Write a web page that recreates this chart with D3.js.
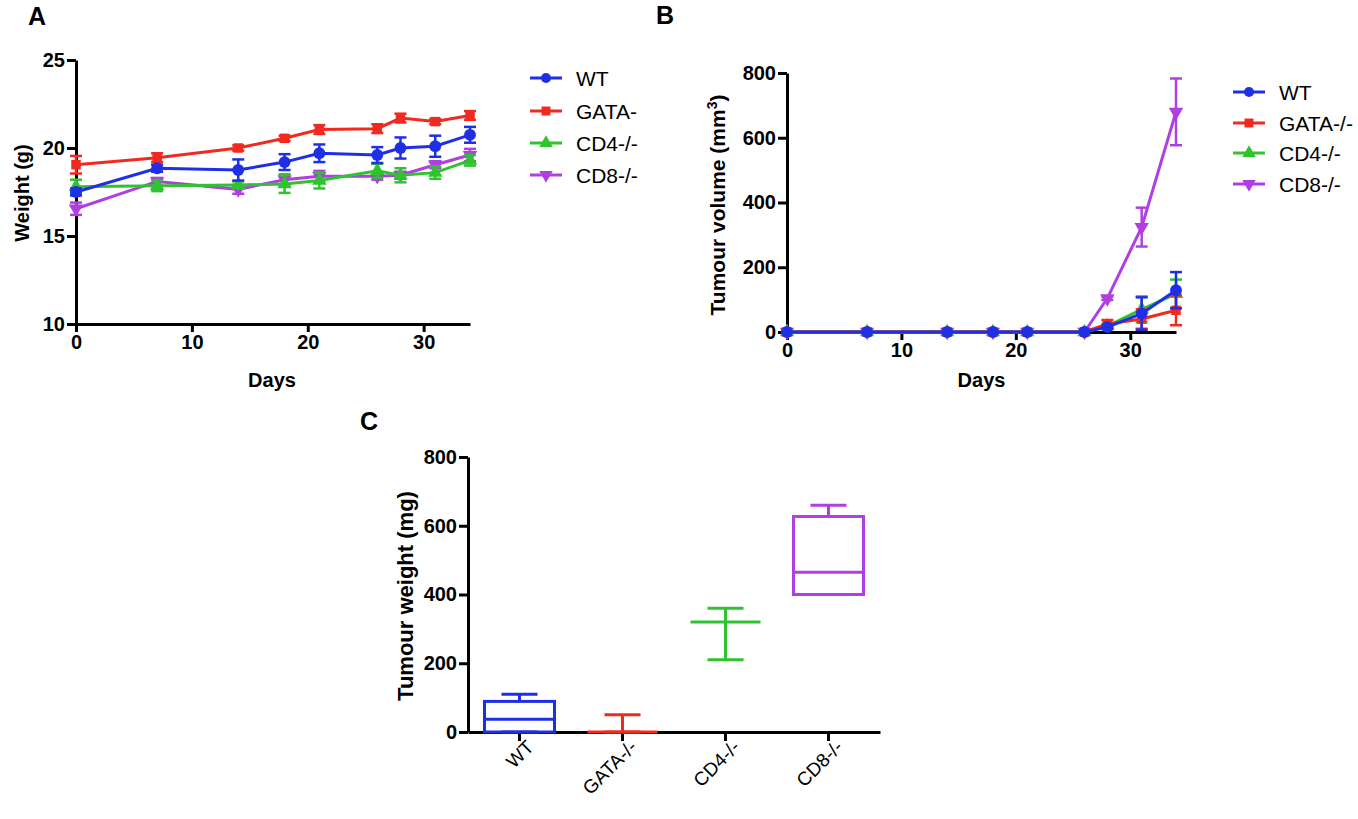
<!DOCTYPE html>
<html>
<head>
<meta charset="utf-8">
<script src="https://cdn.jsdelivr.net/npm/d3@7"></script>
<style>
  body { margin: 0; background: #fff; }
  svg { font-family: "Liberation Sans", Arial, sans-serif; }
  .axis path, .axis line { stroke: #000; stroke-width: 3; }
  .axis text { font-size: 20px; font-weight: bold; fill: #000; }
  .title { font-size: 20px; font-weight: bold; }
  .letter { font-size: 25px; font-weight: bold; }
  .legend text { font-size: 21px; }
</style>
</head>
<body>
<svg width="1358" height="819"></svg>
<script>
// ---- data ----
const days = [0, 7, 14, 18, 21, 26, 28, 31, 34];
const groups = ["WT", "GATA-/-", "CD4-/-", "CD8-/-"];
const legendA = ["WT", "GATA-", "CD4-/-", "CD8-/-"];
const colors = ["#1f2fe6", "#f2291e", "#2fc42f", "#b03fe3"];

// panel A: body weight (g), mean and error
const weightWT = [17.5, 18.85, 18.75, 19.2, 19.7, 19.6, 20.0, 20.1, 20.75];
const weightWTErr = [0.2, 0.2, 0.6, 0.45, 0.5, 0.45, 0.6, 0.6, 0.45];
const weightGATA = [19.05, 19.45, 20.0, 20.55, 21.05, 21.1, 21.7, 21.5, 21.85];
const weightGATAErr = [0.5, 0.25, 0.15, 0.15, 0.25, 0.25, 0.25, 0.15, 0.25];
const weightCD4 = [17.8, 17.85, 17.9, 17.95, 18.15, 18.7, 18.45, 18.6, 19.3];
const weightCD4Err = [0.4, 0.3, 0.2, 0.5, 0.45, 0.4, 0.4, 0.35, 0.3];
const weightCD8 = [16.55, 18.1, 17.65, 18.2, 18.4, 18.4, 18.45, 19.05, 19.6];
const weightCD8Err = [0.35, 0.2, 0.25, 0.3, 0.3, 0.2, 0.2, 0.2, 0.35];

// panel B: tumour volume (mm3)
const volWT = [0, 0, 0, 0, 0, 0, 15, 57, 129];
const volWTErr = [0, 0, 0, 0, 0, 0, 5, 50, 56];
const volGATA = [0, 0, 0, 0, 0, 0, 25, 40, 67];
const volGATAErr = [0, 0, 0, 0, 0, 0, 12, 30, 46];
const volCD4 = [0, 0, 0, 0, 0, 0, 18, 70, 118];
const volCD4Err = [0, 0, 0, 0, 0, 0, 8, 40, 44];
const volCD8 = [0, 0, 0, 0, 0, 0, 104, 324, 680];
const volCD8Err = [0, 0, 0, 0, 0, 0, 5, 60, 103];

// panel C: tumour weight (mg) box plot
const boxMin = [0, 0, 210, 400];
const boxQ1 = [0, 0, 320, 400];
const boxMedian = [37, 0, 320, 465];
const boxQ3 = [89, 0, 320, 627];
const boxMax = [110, 50, 360, 660];

const symbols = [d3.symbolCircle, d3.symbolSquare, d3.symbolTriangle, d3.symbolTriangle];
const symRot = [0, 0, 0, 180];

const svg = d3.select("svg");

function linePanel(cfg) {
  const x = d3.scaleLinear().domain([0, 34]).range(cfg.xRange);
  const y = d3.scaleLinear().domain(cfg.yDomain).range(cfg.yRange);

  // axes
  svg.append("g").attr("class", "axis")
    .attr("transform", `translate(0,${cfg.yRange[0]})`)
    .call(d3.axisBottom(x).tickValues([0, 10, 20, 30]).tickSize(8).tickPadding(3).tickSizeOuter(0));
  svg.append("g").attr("class", "axis")
    .attr("transform", `translate(${cfg.xRange[0]},0)`)
    .call(d3.axisLeft(y).tickValues(cfg.yTicks).tickSize(9).tickPadding(2).tickSizeOuter(0));

  // series, drawn back to front
  const order = [3, 2, 1, 0];
  order.forEach(i => {
    const vals = cfg.series[i], errs = cfg.errors[i];
    const pts = days.map((d, k) => ({d, v: vals[k], e: errs[k]}));
    const g = svg.append("g");
    g.append("path").datum(pts)
      .attr("fill", "none").attr("stroke", colors[i]).attr("stroke-width", 3)
      .attr("d", d3.line().x(p => x(p.d)).y(p => y(p.v)));
    const eb = g.selectAll(".eb").data(pts.filter(p => p.e > 0)).enter().append("g")
      .attr("stroke", colors[i]).attr("stroke-width", 2.5);
    eb.append("line").attr("x1", p => x(p.d)).attr("x2", p => x(p.d))
      .attr("y1", p => y(p.v - p.e)).attr("y2", p => y(p.v + p.e));
    eb.append("line").attr("x1", p => x(p.d) - 6).attr("x2", p => x(p.d) + 6)
      .attr("y1", p => y(p.v + p.e)).attr("y2", p => y(p.v + p.e));
    eb.append("line").attr("x1", p => x(p.d) - 6).attr("x2", p => x(p.d) + 6)
      .attr("y1", p => y(p.v - p.e)).attr("y2", p => y(p.v - p.e));
    g.selectAll(".m").data(pts).enter().append("path")
      .attr("fill", colors[i])
      .attr("transform", p => `translate(${x(p.d)},${y(p.v)}) rotate(${symRot[i]})`)
      .attr("d", d3.symbol().type(symbols[i]).size(i === 0 ? 110 : 90));
  });

  // titles
  svg.append("text").attr("class", "title").attr("text-anchor", "middle")
    .attr("x", (cfg.xRange[0] + cfg.xRange[1]) / 2 + cfg.daysShift).attr("y", 387).text("Days");
  const yt = svg.append("text").attr("class", "title").attr("text-anchor", "middle")
    .style("font-size", cfg.yTitleSize + "px")
    .attr("transform", `translate(${cfg.yTitleX},${cfg.yTitleY}) rotate(-90)`);
  yt.text(cfg.yTitle);
  if (cfg.sup) {
    yt.append("tspan").attr("baseline-shift", "super").style("font-size", "14px").text(cfg.sup);
    yt.append("tspan").text(")");
  }

  // legend
  const lg = svg.append("g").attr("class", "legend");
  cfg.legendLabels.forEach((lab, i) => {
    const ly = cfg.legendY[i];
    lg.append("line").attr("x1", cfg.legendX).attr("x2", cfg.legendX + 32)
      .attr("y1", ly).attr("y2", ly).attr("stroke", colors[i]).attr("stroke-width", 3);
    lg.append("path").attr("fill", colors[i])
      .attr("transform", `translate(${cfg.legendX + 16},${ly}) rotate(${symRot[i]})`)
      .attr("d", d3.symbol().type(symbols[i]).size(80));
    lg.append("text").attr("x", cfg.legendX + 46).attr("y", ly)
      .attr("dominant-baseline", "central").text(lab);
  });
}

linePanel({
  xRange: [76, 470], yDomain: [10, 25], yRange: [324, 60], yTicks: [10, 15, 20, 25],
  series: [weightWT, weightGATA, weightCD4, weightCD8],
  errors: [weightWTErr, weightGATAErr, weightCD4Err, weightCD8Err],
  daysShift: -1, yTitle: "Weight (g)", yTitleSize: 20, yTitleX: 29, yTitleY: 193,
  legendLabels: legendA, legendX: 530, legendY: [78, 111, 143, 175]
});

linePanel({
  xRange: [787, 1176], yDomain: [0, 800], yRange: [332, 73], yTicks: [0, 200, 400, 600, 800],
  series: [volWT, volGATA, volCD4, volCD8],
  errors: [volWTErr, volGATAErr, volCD4Err, volCD8Err],
  daysShift: 0, yTitle: "Tumour volume (mm", sup: "3", yTitleSize: 21, yTitleX: 725, yTitleY: 205,
  legendLabels: groups, legendX: 1233, legendY: [92, 123, 153, 184]
});

// ---- panel C: box plot ----
const xc = d3.scaleBand().domain(groups).range([468, 880]);
const yc = d3.scaleLinear().domain([0, 800]).range([732, 457]);

svg.append("g").attr("class", "axis")
  .attr("transform", "translate(0,732)")
  .call(d3.axisBottom(xc).tickSize(9).tickSizeOuter(0))
  .call(g => g.selectAll("text")
    .style("font-weight", "normal").style("font-size", "19px")
    .attr("text-anchor", "end")
    .attr("transform", "translate(5,6) rotate(-45)")
    .attr("dy", "0.35em").attr("y", 8));
svg.append("g").attr("class", "axis")
  .attr("transform", "translate(468,0)")
  .call(d3.axisLeft(yc).tickValues([0, 200, 400, 600, 800]).tickSize(9).tickPadding(2).tickSizeOuter(0));

const bw = 70, cw = 36;
groups.forEach((grp, i) => {
  const cx = xc(grp) + xc.bandwidth() / 2;
  const g = svg.append("g").attr("stroke", colors[i]).attr("stroke-width", 3).attr("fill", "none");
  g.append("line").attr("x1", cx).attr("x2", cx).attr("y1", yc(boxQ3[i])).attr("y2", yc(boxMax[i]));
  g.append("line").attr("x1", cx).attr("x2", cx).attr("y1", yc(boxMin[i])).attr("y2", yc(boxQ1[i]));
  g.append("line").attr("x1", cx - cw / 2).attr("x2", cx + cw / 2).attr("y1", yc(boxMax[i])).attr("y2", yc(boxMax[i]));
  g.append("line").attr("x1", cx - cw / 2).attr("x2", cx + cw / 2).attr("y1", yc(boxMin[i])).attr("y2", yc(boxMin[i]));
  g.append("rect").attr("x", cx - bw / 2).attr("width", bw)
    .attr("y", yc(boxQ3[i])).attr("height", yc(boxQ1[i]) - yc(boxQ3[i]));
  g.append("line").attr("x1", cx - bw / 2).attr("x2", cx + bw / 2).attr("y1", yc(boxMedian[i])).attr("y2", yc(boxMedian[i]));
});

svg.append("text").attr("class", "title").attr("text-anchor", "middle").style("font-size", "22px")
  .attr("transform", "translate(413,596) rotate(-90)").text("Tumour weight (mg)");

// panel letters
svg.append("text").attr("class", "letter").attr("x", 28).attr("y", 25).text("A");
svg.append("text").attr("class", "letter").attr("x", 656).attr("y", 24).text("B");
svg.append("text").attr("class", "letter").attr("x", 360).attr("y", 430).text("C");
</script>
</body>
</html>
